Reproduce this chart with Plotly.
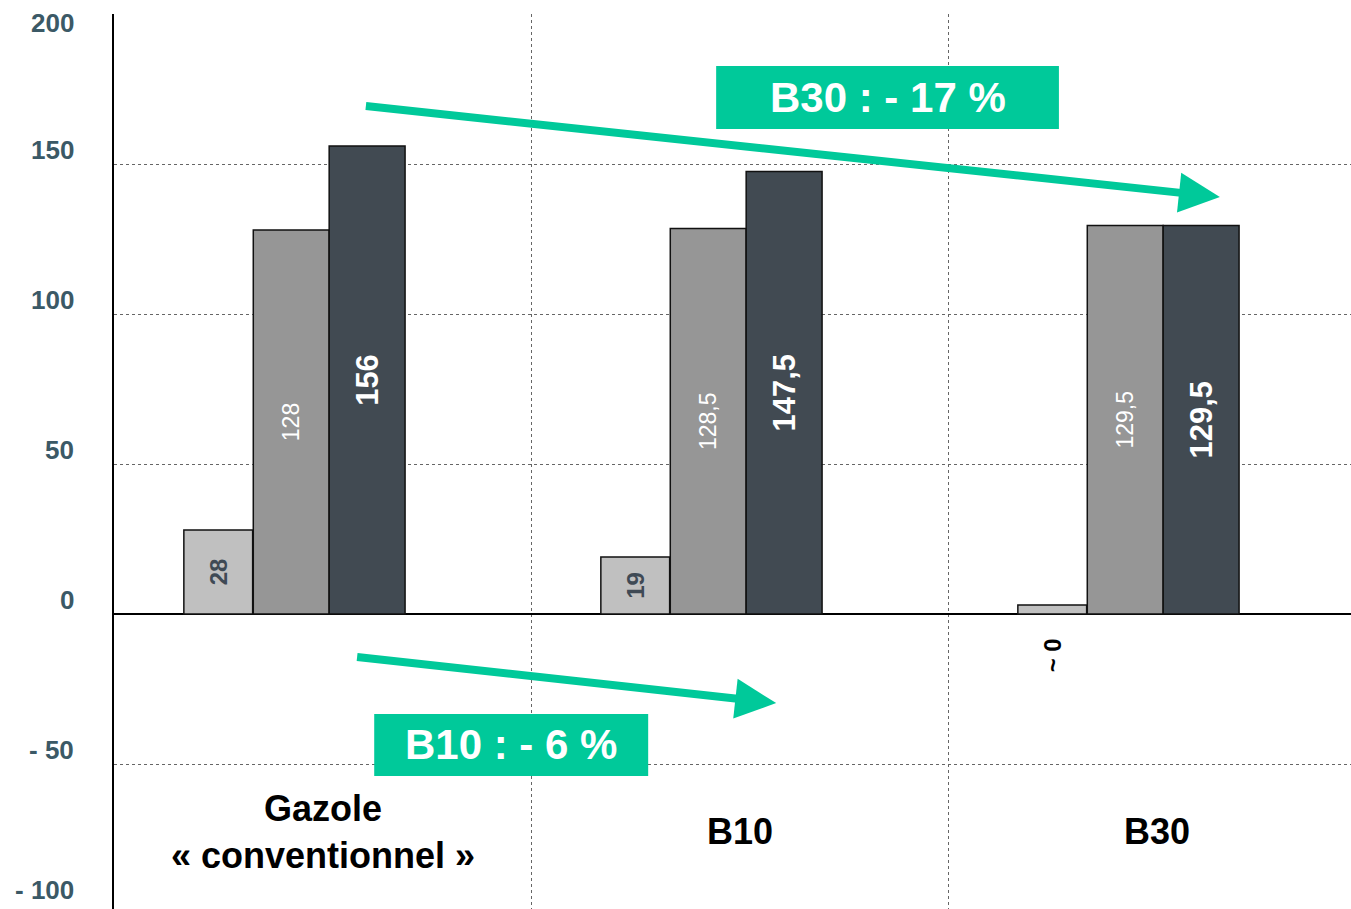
import math
import plotly.graph_objects as go

# ---- data ----
categories = ["Gazole<br>« conventionnel »", "B10", "B30"]
light_values = [28, 19, 3]
light_labels = ["28", "19", "~ 0"]
mid_values = [128, 128.5, 129.5]
mid_labels = ["128", "128,5", "129,5"]
dark_values = [156, 147.5, 129.5]
dark_labels = ["156", "147,5", "129,5"]

y_ticks = [200, 150, 100, 50, 0, -50, -100]
y_tick_labels = ["200", "150", "100", "50", "0", "- 50", "- 100"]

callouts = [
    # text, tail (x, y), tip (x, y), box (x0, x1, y0, y1)
    dict(text="B30 : - 17 %", tail=(0.104, 169.3), tip=(2.152, 139.0),
         box=(0.944, 1.766, 161.7, 182.7)),
    dict(text="B10 : - 6 %", tail=(0.083, -14.3), tip=(1.088, -29.7),
         box=(0.124, 0.781, -54.0, -33.3)),
]

# ---- layout constants ----
W, H = 1351, 909
ML, MR, MT, MB = 114, 0, 14, 0
X_RANGE = [-0.5, -0.5 + (W - ML - MR) / 417]
Y_RANGE = [200 - (H - MT - MB) / 3, 200]
PX_X = (W - ML - MR) / (X_RANGE[1] - X_RANGE[0])
PX_Y = (H - MT - MB) / (Y_RANGE[1] - Y_RANGE[0])

FONT = "Liberation Sans, Arial, sans-serif"
GREEN = "#00C99A"
SLATE = "#3B5966"

x_idx = list(range(len(categories)))

fig = go.Figure()

series = [
    (light_values, [light_labels[0], light_labels[1], ""], -0.25, 0.165, "#C0C0C0",
     dict(size=24, color="#3F4A55", family=FONT, weight="bold")),
    (mid_values, mid_labels, -0.075, 0.182, "#969696",
     dict(size=23, color="white", family=FONT)),
    (dark_values, dark_labels, 0.107, 0.182, "#414A52",
     dict(size=31, color="white", family=FONT, weight="bold")),
]
for vals, labels, off, wid, col, tfont in series:
    fig.add_trace(go.Bar(
        x=[i + off for i in x_idx], y=vals, width=wid,
        marker=dict(color=col, line=dict(color="#111111", width=1.5)),
        text=labels, textposition="inside", insidetextanchor="middle",
        textangle=-90, textfont=tfont, constraintext="none",
        hoverinfo="skip",
    ))

annotations = []
shapes = []

# "~ 0" label under the near-zero bar
annotations.append(dict(
    x=2 - 0.25, y=-13.7, xref="x", yref="y", text=light_labels[2],
    showarrow=False, textangle=-90,
    font=dict(size=24, color="black", family=FONT, weight="bold"),
))

# category names below the zero line
for i, cat in enumerate(categories):
    annotations.append(dict(
        x=i, y=-72.5, xref="x", yref="y", text=cat, showarrow=False,
        font=dict(size=36, color="black", family=FONT, weight="bold"),
        align="center",
    ))

# y tick labels (paper coordinates, kept inside the page at both ends)
for v, lab in zip(y_ticks, y_tick_labels):
    frac = (v - Y_RANGE[0]) / (Y_RANGE[1] - Y_RANGE[0])
    if frac >= 1:
        pos = dict(y=1, yanchor="top", yshift=8)
    elif frac <= 0:
        pos = dict(y=0, yanchor="bottom", yshift=2)
    else:
        pos = dict(y=frac, yanchor="middle", yshift=14)
    annotations.append(dict(
        x=(76 - ML) / (W - ML - MR), xref="paper", yref="paper",
        text=lab, showarrow=False, xanchor="right",
        font=dict(size=26, color=SLATE, family=FONT, weight="bold"),
        **pos,
    ))


def arrow(tail, tip, shaft_px=8, head_len_px=41, head_half_px=20):
    # work in pixels so the head keeps its shape, then convert back
    dx = (tip[0] - tail[0]) * PX_X
    dy = (tip[1] - tail[1]) * PX_Y
    n = math.hypot(dx, dy)
    ux, uy = dx / n, dy / n
    px_, py_ = -uy, ux
    bx = tip[0] - head_len_px * ux / PX_X
    by = tip[1] - head_len_px * uy / PX_Y
    c1 = (bx + head_half_px * px_ / PX_X, by + head_half_px * py_ / PX_Y)
    c2 = (bx - head_half_px * px_ / PX_X, by - head_half_px * py_ / PX_Y)
    out = [dict(type="line", xref="x", yref="y", x0=tail[0], y0=tail[1],
                x1=bx + 2 * ux / PX_X, y1=by + 2 * uy / PX_Y,
                line=dict(color=GREEN, width=shaft_px))]
    out.append(dict(type="path", xref="x", yref="y",
                    path=f"M {tip[0]},{tip[1]} L {c1[0]},{c1[1]} L {c2[0]},{c2[1]} Z",
                    fillcolor=GREEN, line=dict(width=0)))
    return out


for c in callouts:
    shapes += arrow(c["tail"], c["tip"])
    x0, x1, y0, y1 = c["box"]
    shapes.append(dict(type="rect", xref="x", yref="y", x0=x0, x1=x1, y0=y0, y1=y1,
                       fillcolor=GREEN, line=dict(width=0)))
    annotations.append(dict(
        x=(x0 + x1) / 2, y=(y0 + y1) / 2, xref="x", yref="y", text=c["text"],
        showarrow=False, font=dict(size=42, color="white", family=FONT, weight="bold"),
    ))

fig.update_layout(
    width=W, height=H, margin=dict(l=ML, r=MR, t=MT, b=MB),
    plot_bgcolor="white", paper_bgcolor="white",
    showlegend=False, barmode="overlay",
    annotations=annotations, shapes=shapes,
    xaxis=dict(range=X_RANGE, tickvals=[0.5, 1.5, 2.5], showticklabels=False,
               showgrid=True, gridcolor="#666666", gridwidth=1, griddash="dot",
               zeroline=False, ticks="", fixedrange=True),
    yaxis=dict(range=Y_RANGE, tickvals=y_ticks, showticklabels=False,
               showgrid=True, gridcolor="#666666", gridwidth=1, griddash="dot",
               zeroline=True, zerolinecolor="black", zerolinewidth=2,
               showline=True, linecolor="black", linewidth=2, ticks="",
               fixedrange=True),
)

fig.write_html("out.html")
